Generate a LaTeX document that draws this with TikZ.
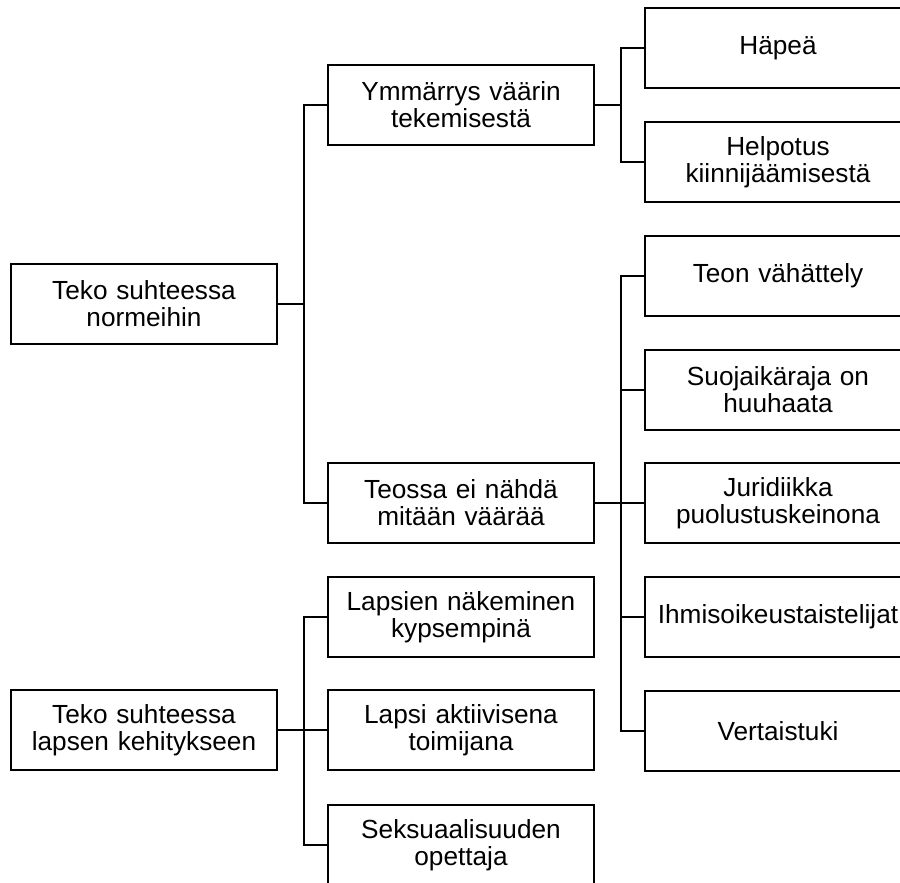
\documentclass[tikz,border=0pt]{standalone}
\usepackage{fontspec}
\setmainfont{Liberation Sans}

\begin{document}
\begin{tikzpicture}[x=0.5pt,y=-0.5pt,
  box/.style={draw,line width=1pt,text width=121pt,inner xsep=6pt,inner ysep=0pt,
    minimum height=40pt,align=center,font=\fontsize{13.1}{13.5}\selectfont},
  link/.style={line width=0.6pt}]
\useasboundingbox (0,0) rectangle (900,883);
\clip (0,0) rectangle (900,883);
% first tree
\node[box] (norm) at (144,304) {Teko suhteessa\\normeihin};
\node[box] (ymm) at (461,105) {Ymmärrys väärin\\tekemisestä};
\node[box] (teo) at (461,503) {Teossa ei nähdä\\mitään väärää};
\node[box] (hap) at (778,48) {Häpeä};
\node[box] (hel) at (778,162) {Helpotus\\kiinnijäämisestä};
\node[box] (vah) at (778,276) {Teon vähättely};
\node[box] (suo) at (778,390) {Suojaikäraja on\\huuhaata};
\node[box] (jur) at (778,503) {Juridiikka\\puolustuskeinona};
\node[box] (ihm) at (778,617) {Ihmisoikeustaistelijat};
\node[box] (ver) at (778,731) {Vertaistuki};
% second tree
\node[box] (keh) at (144,730) {Teko suhteessa\\lapsen kehitykseen};
\node[box] (kyp) at (461,617) {Lapsien näkeminen\\kypsempinä};
\node[box] (akt) at (461,730) {Lapsi aktiivisena\\toimijana};
\node[box] (sek) at (461,845) {Seksuaalisuuden\\opettaja};
% connectors
\foreach \c in {ymm,teo}
  \draw[link] (norm.east) -- ++(26,0) |- (\c.west);
\foreach \c in {hap,hel}
  \draw[link] (ymm.east) -- ++(26,0) |- (\c.west);
\foreach \c in {vah,suo,jur,ihm,ver}
  \draw[link] (teo.east) -- ++(26,0) |- (\c.west);
\foreach \c in {kyp,akt,sek}
  \draw[link] (keh.east) -- ++(26,0) |- (\c.west);
\end{tikzpicture}
\end{document}
